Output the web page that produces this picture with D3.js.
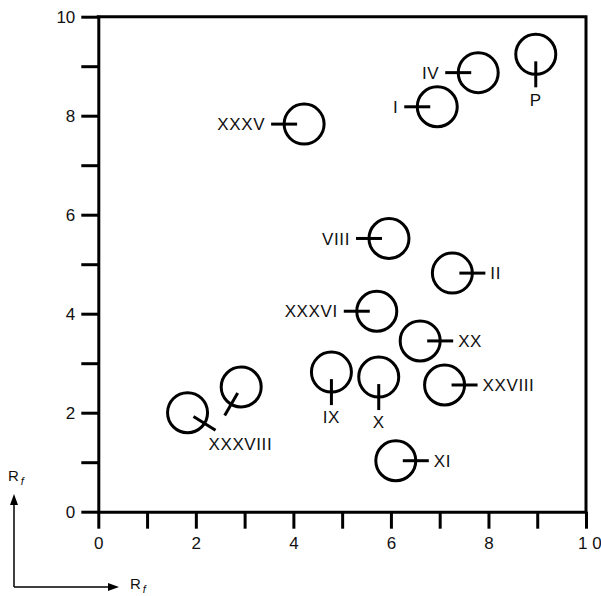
<!DOCTYPE html>
<html>
<head>
<meta charset="utf-8">
<script src="https://cdn.jsdelivr.net/npm/d3@7"></script>
<style>
  html, body { margin: 0; padding: 0; background: #fff; }
  svg { display: block; }
  text { font-family: "Liberation Sans", Helvetica, Arial, sans-serif; fill: #111; }
</style>
</head>
<body>
<svg id="chart" width="601" height="596"></svg>
<script>
// ---- data ----
const spotNames  = ["P", "IV", "I", "XXXV", "VIII", "II", "XXXVI", "XX", "IX", "X", "XXVIII", "XXXVIII", "", "XI"];
const spotX      = [8.97, 7.79, 6.95, 4.22, 5.96, 7.26, 5.71, 6.60, 4.78, 5.75, 7.10, 1.83, 2.93, 6.10];
const spotY      = [9.24, 8.87, 8.18, 7.83, 5.52, 4.82, 4.05, 3.45, 2.82, 2.72, 2.56, 2.00, 2.52, 1.03];
const markerDir  = [90, 180, 180, 180, 180, 0, 180, 0, 90, 90, 0, 32, 120, 0]; // degrees, 0 = right, 90 = down
const xTickValues = [0, 1, 2, 3, 4, 5, 6, 7, 8, 9, 10];
const yTickValues = [0, 1, 2, 3, 4, 5, 6, 7, 8, 9, 10];
const xTickLabels = {0: "0", 2: "2", 4: "4", 6: "6", 8: "8", 10: "1 0"};
const yTickLabels = {0: "0", 2: "2", 4: "4", 6: "6", 8: "8", 10: "10"};
const axisTitle = "R";
const axisTitleSub = "f";

// ---- layout ----
const svg = d3.select("#chart");
const x = d3.scaleLinear().domain([0, 10]).range([98.3, 586]);
const y = d3.scaleLinear().domain([0, 10]).range([511.7, 16.7]);
const SW = 3;
const R = 20;

// frame (top and right)
svg.append("path")
  .attr("d", `M${x(0)},${y(10)}H${x(10)}V${y(0)}`)
  .attr("fill", "none").attr("stroke", "#000").attr("stroke-width", SW)
  .attr("stroke-linecap", "square");

// y axis
const yAxis = d3.axisLeft(y).tickValues(yTickValues).tickSize(17).tickSizeOuter(0).tickPadding(6)
  .tickFormat(d => yTickLabels[d] || "");
const gy = svg.append("g").attr("transform", `translate(${x(0)},0)`).call(yAxis);
gy.selectAll("path, line").attr("stroke", "#000").attr("stroke-width", SW);
gy.selectAll("text").attr("font-size", 17).attr("font-family", "Liberation Sans, Helvetica, Arial, sans-serif").attr("fill", "#111");

// x axis
const xAxis = d3.axisBottom(x).tickValues(xTickValues).tickSize(17).tickSizeOuter(0).tickPadding(8)
  .tickFormat(d => xTickLabels[d] || "");
const gx = svg.append("g").attr("transform", `translate(0,${y(0)})`).call(xAxis);
gx.selectAll("path, line").attr("stroke", "#000").attr("stroke-width", SW);
gx.selectAll("text").attr("font-size", 17).attr("font-family", "Liberation Sans, Helvetica, Arial, sans-serif").attr("fill", "#111");
gx.selectAll("text").attr("dx", d => d === 10 ? "0.2em" : 0);
gy.select(".domain").attr("stroke-linecap", "square");

// spots
const spots = spotNames.map((n, i) => ({ name: n, x: spotX[i], y: spotY[i], dir: markerDir[i] }));
const g = svg.append("g");
const fs = 17, cap = fs * 0.72, inner = R - 13, outer = R + 13;

spots.forEach(s => {
  const cx = x(s.x), cy = y(s.y);
  const a = s.dir * Math.PI / 180, ux = Math.cos(a), uy = Math.sin(a);
  g.append("circle").attr("cx", cx).attr("cy", cy).attr("r", R)
    .attr("fill", "none").attr("stroke", "#000").attr("stroke-width", SW);
  const ex = cx + outer * ux, ey = cy + outer * uy;
  g.append("line")
    .attr("x1", cx + inner * ux).attr("y1", cy + inner * uy)
    .attr("x2", ex).attr("y2", ey)
    .attr("stroke", "#000").attr("stroke-width", SW);
  if (!s.name) return;
  const t = g.append("text").attr("font-size", fs).attr("letter-spacing", 0.6).text(s.name);
  if (s.dir === 0) {
    t.attr("x", ex + 5).attr("y", ey + cap / 2).attr("text-anchor", "start");
  } else if (s.dir === 180) {
    t.attr("x", ex - 6).attr("y", ey + cap / 2).attr("text-anchor", "end");
  } else if (s.dir === 90) {
    t.attr("x", ex).attr("y", ey + 6 + cap).attr("text-anchor", "middle");
  } else {
    t.attr("x", ex - 7).attr("y", ey + 8 + cap).attr("text-anchor", "start");
  }
});

// direction arrows (lower-left)
const arrow = svg.append("g");
arrow.append("path").attr("d", "M14,587V503").attr("stroke", "#000").attr("stroke-width", 1.5).attr("fill", "none");
arrow.append("path").attr("d", "M14,587H108").attr("stroke", "#000").attr("stroke-width", 1.5).attr("fill", "none");
arrow.append("path").attr("d", "M14,494L10,505L18,505Z").attr("fill", "#000");
arrow.append("path").attr("d", "M119,587L108,583L108,591Z").attr("fill", "#000");

function rf(xp, yp) {
  const t = svg.append("text").attr("x", xp).attr("y", yp).attr("font-size", 15);
  t.append("tspan").text(axisTitle);
  t.append("tspan").attr("dx", 2).attr("dy", 4).attr("font-size", 11).attr("font-style", "italic").text(axisTitleSub);
}
rf(8, 481);
rf(130, 589);
</script>
</body>
</html>
